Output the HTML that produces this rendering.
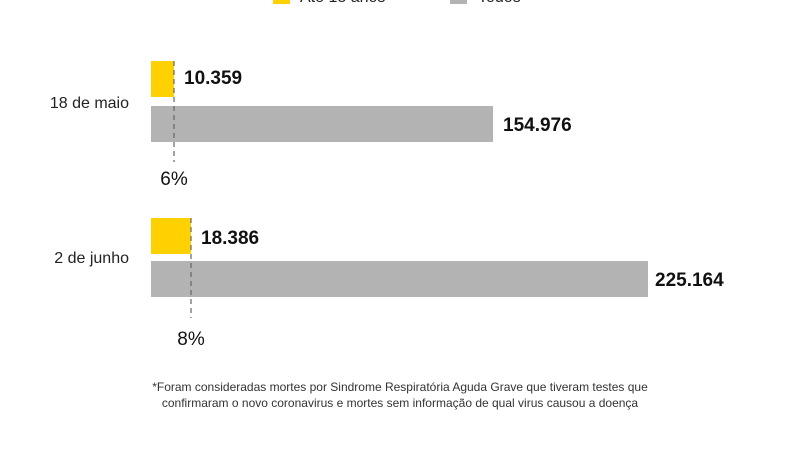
<!DOCTYPE html>
<html><head><meta charset="utf-8"><style>
body{margin:0;width:800px;height:450px;background:#fff;overflow:hidden;font-family:"Liberation Sans",sans-serif;}
svg text{font-family:"Liberation Sans",sans-serif;}
</style></head><body>
<svg width="800" height="450" viewBox="0 0 800 450">
<rect x="273" y="-14" width="17" height="18" fill="#FFD100"/>
<text x="300" y="2" font-size="16" fill="#222">Até 18 anos</text>
<rect x="450" y="-14" width="17" height="18" fill="#b3b3b3"/>
<text x="478" y="2" font-size="16" fill="#222">Todos</text>

<text x="129" y="108" font-size="16" fill="#222" text-anchor="end">18 de maio</text>
<rect x="151" y="61" width="23" height="36" fill="#FFD100"/>
<rect x="151" y="106" width="342" height="36" fill="#b3b3b3"/>
<line x1="174" y1="61" x2="174" y2="162" stroke="#666" stroke-width="1.2" stroke-dasharray="5,4"/>
<text x="184" y="84" font-size="19" font-weight="bold" fill="#111">10.359</text>
<text x="503" y="131" font-size="19" font-weight="bold" fill="#111">154.976</text>
<text x="174" y="185" font-size="19" fill="#111" text-anchor="middle">6%</text>

<text x="129" y="263" font-size="16" fill="#222" text-anchor="end">2 de junho</text>
<rect x="151" y="218" width="40" height="36" fill="#FFD100"/>
<rect x="151" y="261" width="497" height="36" fill="#b3b3b3"/>
<line x1="191" y1="218" x2="191" y2="318" stroke="#666" stroke-width="1.2" stroke-dasharray="5,4"/>
<text x="201" y="244" font-size="19" font-weight="bold" fill="#111">18.386</text>
<text x="655" y="286" font-size="19" font-weight="bold" fill="#111">225.164</text>
<text x="191" y="345" font-size="19" fill="#111" text-anchor="middle">8%</text>

<text x="400" y="391" font-size="12" fill="#333" text-anchor="middle">*Foram consideradas mortes por Sindrome Respiratória Aguda Grave que tiveram testes que</text>
<text x="400" y="407" font-size="12" fill="#333" text-anchor="middle">confirmaram o novo coronavirus e mortes sem informação de qual virus causou a doença</text>
</svg>
</body></html>
